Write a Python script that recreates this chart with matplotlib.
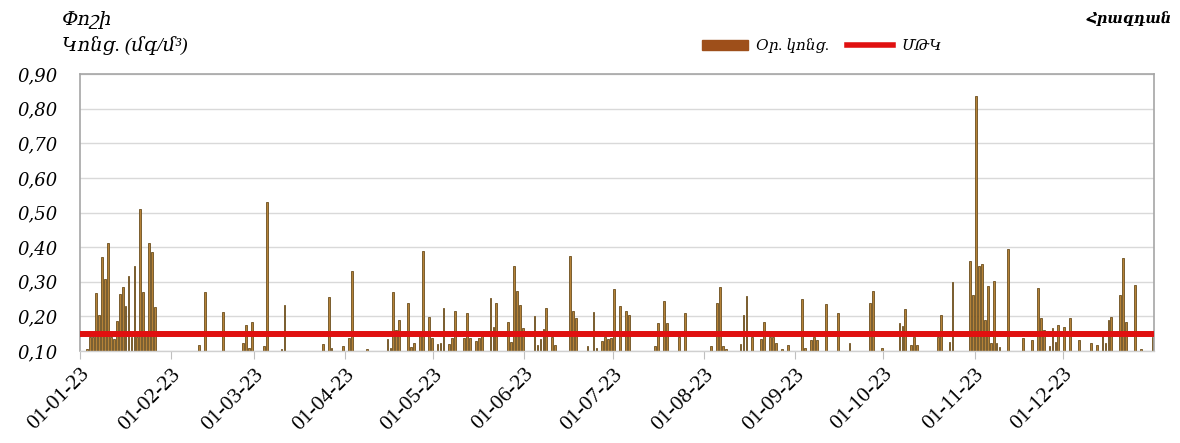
import numpy as np
import matplotlib
matplotlib.use("Agg")
import matplotlib.pyplot as plt
from matplotlib.patches import Patch
from matplotlib.lines import Line2D

# ---- data ----
# day offset from 01-01-2023 (0 = Jan 1) and daily concentration (mg/m3)
day_offset = [2, 3, 4, 5, 6, 7, 8, 9, 10, 11, 12, 13, 14, 15, 16, 17, 18, 19, 20, 21, 22, 23, 24, 25,
              40, 42, 48, 55, 56, 57, 58,
              62, 63, 68, 69, 82, 84, 85, 89,
              91, 92, 97, 104, 105, 106, 107, 108, 111, 112, 113, 115, 116, 118, 119,
              121, 122, 123, 125, 126, 127, 130, 131, 132, 134, 135, 136, 139, 140, 141, 145, 146, 147, 148, 149, 150,
              154, 155, 156, 157, 158, 160, 161, 166, 167, 168, 172, 174, 175, 177, 178, 179, 180,
              181, 183, 185, 186, 195, 196, 198, 199, 203, 205,
              214, 216, 217, 218, 219, 224, 225, 226, 228, 231, 232, 234, 235, 236, 238, 240,
              245, 246, 248, 249, 250, 253, 257, 261, 268, 269, 272,
              278, 279, 280, 282, 283, 284, 291, 292, 295, 296, 302, 303,
              304, 305, 306, 307, 308, 309, 310, 311, 312, 315, 320, 323, 325, 326, 327, 329, 330, 331, 332, 334,
              336, 339, 343, 345, 347, 348, 349, 350, 353, 354, 355, 358, 360, 364]
concentration = [0.105, 0.14, 0.14, 0.267, 0.204, 0.372, 0.307, 0.411, 0.14, 0.135, 0.187, 0.264, 0.284, 0.23,
                 0.317, 0.14, 0.346, 0.14, 0.51, 0.27, 0.156, 0.411, 0.387, 0.226,
                 0.117, 0.27, 0.212, 0.124, 0.175, 0.108, 0.183,
                 0.114, 0.531, 0.105, 0.233, 0.12, 0.255, 0.11, 0.114,
                 0.137, 0.332, 0.105, 0.134, 0.11, 0.27, 0.16, 0.19, 0.238, 0.112, 0.124, 0.156, 0.39, 0.197, 0.138,
                 0.12, 0.124, 0.223, 0.12, 0.137, 0.216, 0.137, 0.209, 0.137, 0.13, 0.137, 0.156, 0.252, 0.17, 0.238,
                 0.183, 0.127, 0.345, 0.274, 0.233, 0.165,
                 0.2, 0.117, 0.134, 0.163, 0.223, 0.14, 0.117, 0.375, 0.216, 0.194, 0.114, 0.212, 0.108, 0.13, 0.14,
                 0.134, 0.137,
                 0.278, 0.23, 0.216, 0.204, 0.114, 0.18, 0.243, 0.18, 0.14, 0.209,
                 0.114, 0.238, 0.284, 0.114, 0.105, 0.12, 0.204, 0.26, 0.141, 0.134, 0.183, 0.141, 0.141, 0.124,
                 0.105, 0.117,
                 0.249, 0.11, 0.132, 0.14, 0.132, 0.235, 0.209, 0.122, 0.238, 0.274, 0.11,
                 0.18, 0.172, 0.22, 0.117, 0.14, 0.117, 0.14, 0.204, 0.127, 0.3, 0.36, 0.262,
                 0.837, 0.345, 0.35, 0.19, 0.288, 0.122, 0.303, 0.122, 0.112, 0.394, 0.137, 0.132, 0.281, 0.194,
                 0.16, 0.114, 0.165, 0.127, 0.175, 0.168,
                 0.194, 0.132, 0.124, 0.117, 0.156, 0.124, 0.19, 0.197, 0.262, 0.368, 0.183, 0.29, 0.105, 0.14]
mdk = 0.15  # limit value (ՄԹԿ)

month_start_offset = [0, 31, 59, 90, 120, 151, 181, 212, 243, 273, 304, 334]
month_labels = ["01-01-23", "01-02-23", "01-03-23", "01-04-23", "01-05-23", "01-06-23",
                "01-07-23", "01-08-23", "01-09-23", "01-10-23", "01-11-23", "01-12-23"]
y_ticks = [0.10, 0.20, 0.30, 0.40, 0.50, 0.60, 0.70, 0.80, 0.90]
days_in_year = 365

title_left_1 = "Փոշի"
title_left_2 = "Կոնց. (մգ/մ³)"
station = "Հրազդան"
legend_bar = "Օր. կոնց."
legend_line = "ՄԹԿ"

# ---- figure ----
arm = ["Liberation Serif", "DejaVu Serif"]
fig = plt.figure(figsize=(11.8, 4.43), dpi=100)
ax = fig.add_axes([80 / 1180, 1 - 351 / 443, (1154 - 80) / 1180, (351 - 74) / 443])

x = np.array(day_offset) + 0.5
ax.bar(x, concentration, width=0.6, color="#B58238", edgecolor="#6B4E1E", linewidth=0.6, zorder=2)
ax.axhline(mdk, color="#E01010", linewidth=4.3, zorder=3)

ax.set_xlim(0, days_in_year)
ax.set_ylim(y_ticks[0], y_ticks[-1])
ax.set_yticks(y_ticks)
ax.set_yticklabels([f"{v:.2f}".replace(".", ",") for v in y_ticks],
                   family=["DejaVu Serif"], style="italic", fontsize=13)
ax.set_xticks(month_start_offset)
ax.set_xticklabels(month_labels, rotation=45, ha="right", rotation_mode="anchor",
                   family=["Liberation Serif"], fontsize=15.5)
ax.tick_params(axis="y", length=0, pad=16)
ax.tick_params(axis="x", length=6, color="#BFBFBF", pad=4)

ax.grid(axis="y", color="#D9D9D9", linewidth=1.0, zorder=0)
for s in ["top", "right", "left"]:
    ax.spines[s].set_color("#A6A6A6")
    ax.spines[s].set_linewidth(1.2)
ax.spines["bottom"].set_color("#D0D0D0")
ax.spines["bottom"].set_linewidth(1.0)

fig.text(62 / 1180, 1 - 19 / 443, title_left_1, family=arm, style="italic", fontsize=14, va="center", ha="left")
fig.text(62 / 1180, 1 - 46 / 443, title_left_2, family=arm, style="italic", fontsize=14, va="center", ha="left")
fig.text(1172 / 1180, 1 - 19 / 443, station, family=arm, style="italic", weight="bold", fontsize=10.5,
         va="center", ha="right")

handles = [Patch(facecolor="#9E4F1A", edgecolor="#9E4F1A"),
           Line2D([0], [0], color="#E01010", linewidth=4)]
fig.legend(handles, [legend_bar, legend_line], loc="center", bbox_to_anchor=(822 / 1180, 1 - 46 / 443),
           ncol=2, frameon=False, handlelength=3.0, handleheight=0.6, handletextpad=0.5, columnspacing=1.2,
           prop={"family": arm, "style": "italic", "size": 11})

fig.savefig("out.png", dpi=100)
